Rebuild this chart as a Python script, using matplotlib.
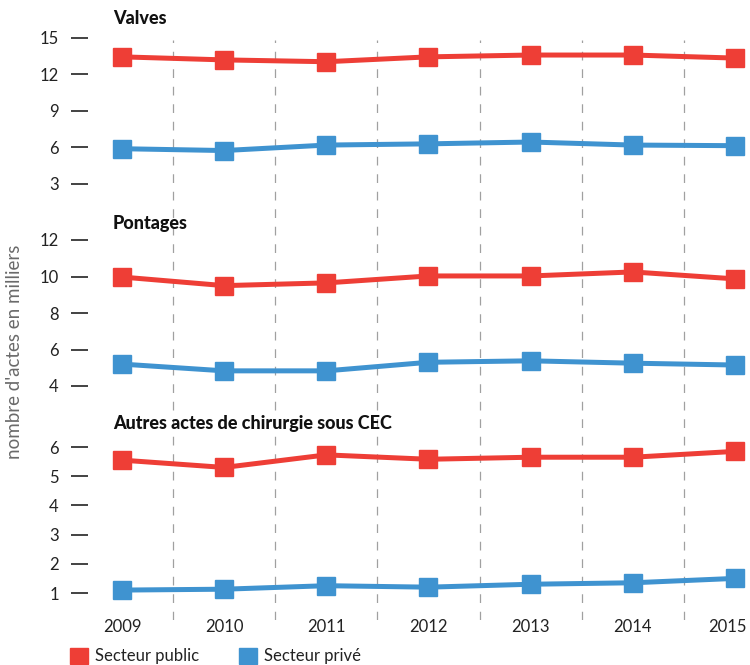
import matplotlib
matplotlib.use('Agg')
import matplotlib.pyplot as plt
from matplotlib.patches import Patch
from matplotlib.transforms import ScaledTranslation

plt.rcParams['font.family'] = ['Lato', 'DejaVu Sans']

years = [2009, 2010, 2011, 2012, 2013, 2014, 2015]

valves_public = [13.45, 13.2, 13.05, 13.45, 13.6, 13.6, 13.35]
valves_prive = [5.9, 5.75, 6.2, 6.3, 6.45, 6.2, 6.15]

pontages_public = [9.97, 9.5, 9.65, 10.03, 10.03, 10.25, 9.87]
pontages_prive = [5.2, 4.83, 4.83, 5.3, 5.38, 5.25, 5.15]

autres_public = [5.55, 5.3, 5.73, 5.58, 5.65, 5.65, 5.85]
autres_prive = [1.1, 1.13, 1.25, 1.2, 1.3, 1.35, 1.5]

titles = ['Valves', 'Pontages', 'Autres actes de chirurgie sous CEC']
yticks_list = [[3, 6, 9, 12, 15], [4, 6, 8, 10, 12], [1, 2, 3, 4, 5, 6]]
publics = [valves_public, pontages_public, autres_public]
prives = [valves_prive, pontages_prive, autres_prive]

red = '#ee3e36'
blue = '#3f93d0'

W, H = 750, 665
fig = plt.figure(figsize=(7.5, 6.65), dpi=100)

left_px, right_px = 88, 740
x0 = 2009 - (122 - left_px) / 102.17
x1 = 2015 + (right_px - 735) / 102.17

# panel extents in pixels (top, bottom), title y
panels = [(38, 184, 18), (240, 386, 223), (447, 593, 424)]

# dashed separators between years, spanning all panels
bg = fig.add_axes([left_px / W, 1 - 620 / H, (right_px - left_px) / W, (620 - 40) / H])
bg.set_xlim(x0, x1)
bg.set_ylim(0, 1)
bg.axis('off')
for a, b in zip(years[:-1], years[1:]):
    bg.axvline((a + b) / 2, color='#a0a0a0', lw=0.9, dashes=(7, 7))

axes = []
for i, (top, bot, ty) in enumerate(panels):
    ax = fig.add_axes([left_px / W, 1 - bot / H, (right_px - left_px) / W, (bot - top) / H])
    ax.patch.set_alpha(0)
    ax.plot(years, publics[i], color=red, lw=3.6, marker='s', markersize=13, clip_on=False, zorder=3)
    ax.plot(years, prives[i], color=blue, lw=3.6, marker='s', markersize=13, clip_on=False, zorder=3)
    ax.set_xlim(x0, x1)
    yt = yticks_list[i]
    ax.set_ylim(yt[0], yt[-1])
    ax.set_yticks(yt)
    for s in ax.spines.values():
        s.set_visible(False)
    ax.tick_params(axis='y', length=12, width=1.2, color='#222222', pad=9, labelsize=12, labelcolor='#222222')
    ax.set_xticks(years)
    if i < 2:
        ax.tick_params(axis='x', length=0, labelbottom=False)
    else:
        ax.set_xticklabels([str(y) for y in years])
        ax.tick_params(axis='x', length=0, pad=19, labelsize=12, labelcolor='#222222')
        last = ax.get_xticklabels()[-1]
        last.set_transform(last.get_transform() + ScaledTranslation(-8 / 100, 0, fig.dpi_scale_trans))
    fig.text(113 / W, 1 - ty / H, titles[i], fontsize=13, fontweight='black', color='#111111', va='center', ha='left')
    axes.append(ax)

fig.text(15 / W, 1 - 352 / H, "nombre d'actes en milliers", rotation=90, fontsize=13.5,
         color='#6a6a6a', ha='center', va='center')

handles = [Patch(color=red), Patch(color=blue)]
fig.legend(handles, ['Secteur public', 'Secteur privé'], loc='center left',
           bbox_to_anchor=(55 / W, 1 - 656 / H), ncol=2, frameon=False, fontsize=12,
           handlelength=1.1, handleheight=1.1, handletextpad=0.4, columnspacing=2.4,
           labelcolor='#222222')

fig.savefig('out.png', dpi=100)
